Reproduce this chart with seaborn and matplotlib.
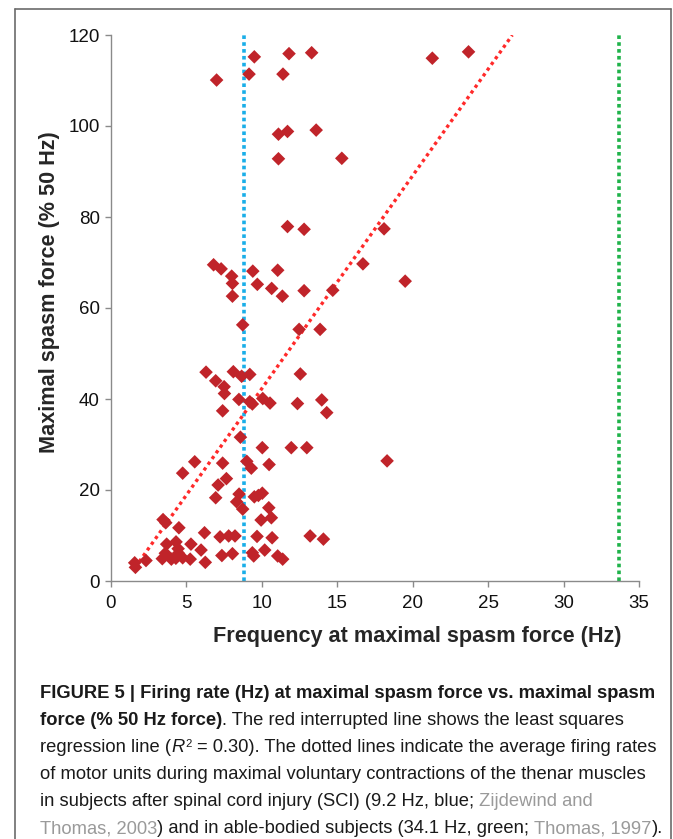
import matplotlib
matplotlib.use("Agg")
import matplotlib.pyplot as plt
from matplotlib.lines import Line2D
import numpy as np
import pandas as pd
import seaborn as sns

# ---------------- data ----------------
freq_hz = [7.0, 9.5, 9.15, 11.8, 13.3, 11.4, 11.1, 11.7, 13.6, 11.1, 15.3, 11.7, 12.8, 18.1,
           6.8, 7.3, 8.0, 8.05, 8.05, 9.4, 11.05, 9.7, 10.65, 11.36, 12.8, 14.7, 16.7, 21.3,
           23.7, 19.5,
           8.73, 12.47, 13.86, 6.3, 8.11, 8.66, 9.2, 12.55, 6.94, 7.5, 7.52, 8.48, 9.2, 9.37,
           10.06, 10.54, 12.36, 13.97, 14.3, 7.4, 8.58, 10.03, 11.95, 12.98, 18.3, 5.55, 7.4,
           9.0, 9.3, 10.48, 4.75, 7.65, 7.1, 6.94, 8.49, 8.33, 8.73, 9.5, 9.77, 10.03, 10.46,
           10.63, 9.95, 3.45, 3.63, 4.5, 6.2, 7.23, 7.8, 8.22, 9.68, 10.68, 13.2, 14.08, 3.69,
           4.31, 4.45, 5.3, 5.97, 3.6, 4.47, 3.4, 4.0, 4.3, 4.75, 5.25, 6.25, 7.35, 8.05, 9.37,
           9.46, 10.19, 11.05, 11.38, 1.57, 2.32, 1.62]
spasm_force = [110.1, 115.2, 111.4, 115.9, 116.1, 111.4, 98.2, 98.8, 99.1, 92.8, 92.9, 77.9,
               77.3, 77.4, 69.5, 68.6, 67.0, 65.4, 62.6, 68.1, 68.3, 65.2, 64.3, 62.6, 63.8,
               63.9, 69.7, 114.9, 116.3, 65.9,
               56.3, 55.3, 55.3, 45.9, 46.0, 45.0, 45.4, 45.5, 44.0, 42.7, 41.2, 39.9, 39.4,
               38.9, 40.1, 39.1, 39.0, 39.8, 37.0, 37.4, 31.6, 29.3, 29.3, 29.3, 26.4, 26.2,
               25.9, 26.3, 24.8, 25.6, 23.7, 22.5, 21.1, 18.3, 19.1, 17.4, 15.8, 18.5, 18.8,
               19.3, 16.1, 13.9, 13.4, 13.5, 12.8, 11.7, 10.6, 9.7, 9.9, 9.9, 9.8, 9.5, 9.9,
               9.2, 8.1, 8.6, 7.1, 8.1, 6.8, 6.1, 6.1, 4.9, 4.8, 5.0, 5.1, 4.8, 4.1, 5.6, 6.0,
               6.2, 5.5, 6.8, 5.5, 4.8, 4.0, 4.5, 3.0]

# least-squares regression line (as drawn)
reg_slope = 4.68
reg_intercept = -4.5
reg_x_range = [1.6, 26.6]

# reference firing rates (dotted lines, as drawn)
ref_rates = [8.8, 33.7]
ref_colors = ["#1aaee8", "#1fb34a"]

x_ticks = [0, 5, 10, 15, 20, 25, 30, 35]
y_ticks = [0, 20, 40, 60, 80, 100, 120]
x_label = "Frequency at maximal spasm force (Hz)"
y_label = "Maximal spasm force (% 50 Hz)"

caption_lines = [
    [("FIGURE 5 | Firing rate (Hz) at maximal spasm force vs. maximal spasm", "b")],
    [("force (% 50 Hz force)", "b"), (". The red interrupted line shows the least squares", "n")],
    [("regression line (", "n"), ("R", "i"), ("2", "sup"),
     (" = 0.30). The dotted lines indicate the average firing rates", "n")],
    [("of motor units during maximal voluntary contractions of the thenar muscles", "n")],
    [("in subjects after spinal cord injury (SCI) (9.2 Hz, blue; ", "n"), ("Zijdewind and", "g")],
    [("Thomas, 2003", "g"), (") and in able-bodied subjects (34.1 Hz, green; ", "n"),
     ("Thomas, 1997", "g"), (").", "n")],
]

# ---------------- style ----------------
sns.set_style("ticks")
plt.rcParams["font.family"] = ["Liberation Sans", "DejaVu Sans"]

W, H = 673, 839
fig = plt.figure(figsize=(W / 100, H / 100), dpi=100)
ax = fig.add_axes([111 / W, 1 - 581 / H, (639 - 111) / W, (581 - 35) / H])

df = pd.DataFrame({"freq": freq_hz, "force": spasm_force})
sns.scatterplot(data=df, x="freq", y="force", marker="D", color="#c0242a", s=48,
                edgecolor="none", linewidth=0, ax=ax, zorder=4, clip_on=False)

reg_df = pd.DataFrame({"x": reg_x_range,
                       "y": [reg_slope * v + reg_intercept for v in reg_x_range]})
ax.plot(reg_df["x"], reg_df["y"], color="#ff2a2a", lw=2.4, linestyle=(0, (1, 1.1)),
        zorder=3, solid_capstyle="butt")

for xv, col in zip(ref_rates, ref_colors):
    ax.plot([xv, xv], [y_ticks[0], y_ticks[-1]], color=col, lw=2.6,
            linestyle=(0, (1, 0.9)), zorder=2, clip_on=False)

ax.set_xlim(0, 35)
ax.set_ylim(0, 120)
ax.set_xticks(x_ticks)
ax.set_yticks(y_ticks)
ax.tick_params(axis="both", labelsize=13.5, colors="#8a8a8a", labelcolor="#111111",
               length=4, width=1, direction="out")
ax.tick_params(axis="x", pad=6)
ax.tick_params(axis="y", pad=4)
for side in ["top", "right"]:
    ax.spines[side].set_visible(False)
for side in ["left", "bottom"]:
    ax.spines[side].set_color("#8a8a8a")
    ax.spines[side].set_linewidth(1)

ax.set_xlabel(x_label, fontsize=15.6, fontweight="bold")
ax.set_ylabel(y_label, fontsize=15.6, fontweight="bold")
ax.xaxis.set_label_coords((417 - 111) / (639 - 111), -45 / 546)
ax.yaxis.set_label_coords(-51 / 528, (581 - 292) / 546)

# border frame (open at bottom)
bc = "#6b6b6b"
fig.add_artist(Line2D([15 / W, 15 / W], [0, 1 - 9 / H], color=bc, lw=1.2))
fig.add_artist(Line2D([671 / W, 671 / W], [0, 1 - 9 / H], color=bc, lw=1.2))
fig.add_artist(Line2D([15 / W, 671 / W], [1 - 9 / H, 1 - 9 / H], color=bc, lw=1.2))

# ---------------- caption ----------------
renderer = fig.canvas.get_renderer()
cap_family = ["Liberation Sans Narrow", "Liberation Sans", "DejaVu Sans"]
gray = "#9a9a9a"


def text_width(s, **kw):
    t = fig.text(0, 0, s, **kw)
    w = t.get_window_extent(renderer).width
    t.remove()
    return w


def style_kw(kind, size):
    kw = dict(family=cap_family, fontsize=size, color="#1a1a1a")
    if kind == "b":
        kw["fontweight"] = "bold"
    elif kind == "i":
        kw["fontstyle"] = "italic"
    elif kind == "g":
        kw["color"] = gray
    elif kind == "sup":
        kw["fontsize"] = size * 0.62
    return kw


# fit the caption size so the longest plain line spans the same width as in the figure
probe = 14.0
w_probe = text_width(caption_lines[3][0][0], **style_kw("n", probe))
cap_size = probe * 610.0 / w_probe

baselines = [698, 725, 752, 779, 806, 833]
x_start = 40
for line, yb in zip(caption_lines, baselines):
    x = x_start
    for s, kind in line:
        kw = style_kw(kind, cap_size)
        space_w = text_width("x x", **kw) - text_width("xx", **kw)
        lead = len(s) - len(s.lstrip(" "))
        trail = len(s) - len(s.rstrip(" "))
        core = s.strip(" ")
        x += lead * space_w
        dy = 5 if kind == "sup" else 0
        t = fig.text(x / W, 1 - (yb - dy) / H, core, ha="left", va="baseline", **kw)
        x += t.get_window_extent(renderer).width
        if kind == "i":
            x += 1.0
        x += trail * space_w

fig.savefig("out.png", dpi=100)
